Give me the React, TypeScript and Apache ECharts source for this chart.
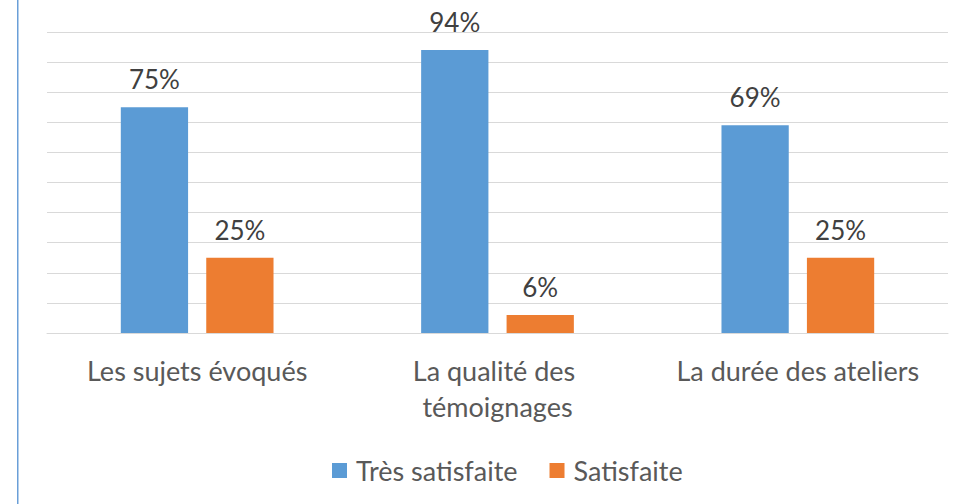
import React, { useEffect, useRef } from "react";
import * as echarts from "echarts";

const categories = ["Les sujets évoqués", "La qualité des témoignages", "La durée des ateliers"];
const tresSatisfaite = [75, 94, 69];
const satisfaite = [25, 6, 25];
const seriesNames = ["Très satisfaite", "Satisfaite"];

const FONT = "Lato";

export default function App() {
  const ref = useRef<HTMLDivElement>(null);
  useEffect(() => {
    if (!ref.current) return;
    const chart = echarts.init(ref.current, undefined, { renderer: "svg" });
    const labelStyle = {
      show: true,
      position: "top" as const,
      distance: 15,
      formatter: "{c}%",
      color: "#404040",
      fontFamily: FONT,
      fontSize: 26,
    };
    chart.setOption({
      animation: false,
      backgroundColor: "#ffffff",
      grid: { left: 47, right: 5, top: 32, bottom: 171, containLabel: false },
      legend: {
        data: seriesNames,
        top: 452,
        left: 327,
        itemWidth: 15,
        itemHeight: 15,
        itemGap: 32,
        icon: "rect",
        textStyle: { color: "#595959", fontFamily: FONT, fontSize: 27, padding: [0, 0, 0, 4] },
      },
      xAxis: {
        type: "category",
        data: categories,
        axisLine: { show: true, lineStyle: { color: "#d9d9d9", width: 1 } },
        axisTick: { show: false },
        axisLabel: {
          color: "#595959",
          fontFamily: FONT,
          fontSize: 27,
          margin: 19,
          width: 280,
          overflow: "break",
          lineHeight: 36,
          interval: 0,
        },
      },
      yAxis: {
        type: "value",
        min: 0,
        max: 100,
        interval: 10,
        axisLabel: { show: false },
        axisLine: { show: false },
        axisTick: { show: false },
        splitLine: { show: true, lineStyle: { color: "#d9d9d9", width: 1 } },
      },
      series: [
        {
          name: seriesNames[0],
          type: "bar",
          data: tresSatisfaite,
          itemStyle: { color: "#5B9BD5" },
          barWidth: "22.4%",
          barGap: "27%",
          label: labelStyle,
        },
        {
          name: seriesNames[1],
          type: "bar",
          data: satisfaite,
          itemStyle: { color: "#ED7D31" },
          barWidth: "22.4%",
          label: labelStyle,
        },
      ],
      graphic: [
        {
          type: "rect",
          shape: { x: 17, y: 0, width: 1.5, height: 504 },
          style: { fill: "#6a9fd8" },
          silent: true,
        },
      ],
    });
    return () => chart.dispose();
  }, []);
  return (
    <div
      ref={ref}
      style={{ position: "fixed", left: 0, top: 0, width: 953, height: 504 }}
    />
  );
}
